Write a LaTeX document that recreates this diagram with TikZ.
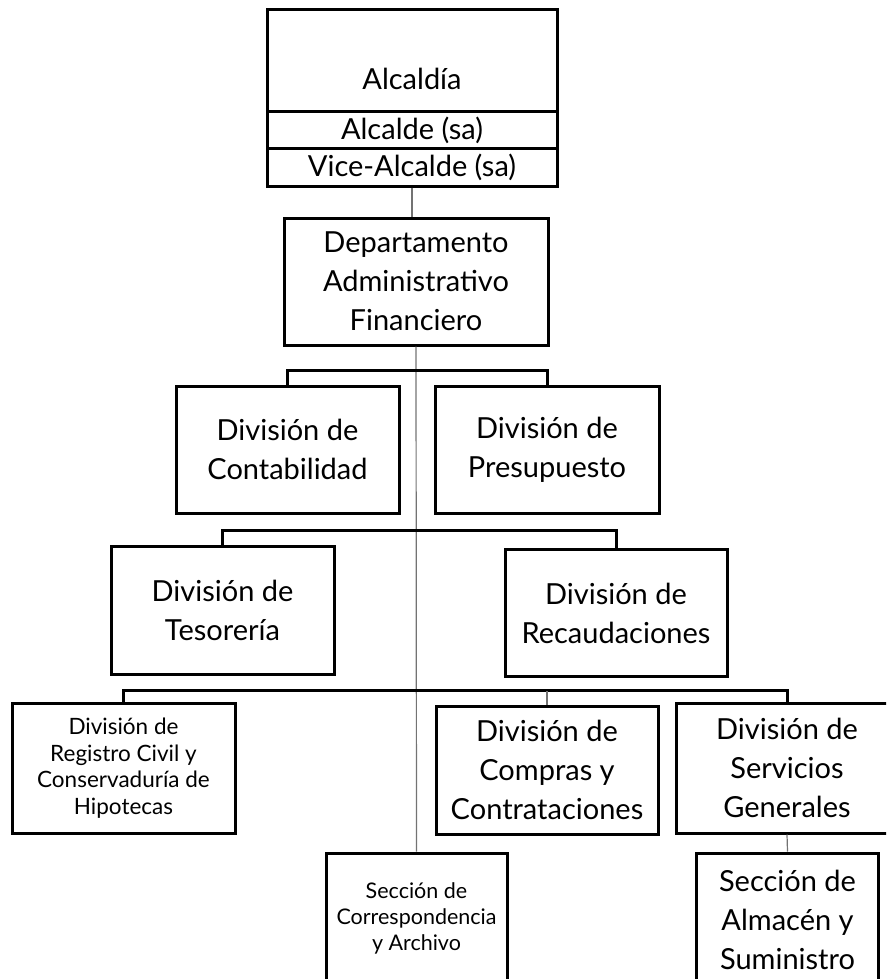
\documentclass[tikz,border=0pt]{standalone}
\usepackage{fontspec}
\setmainfont{Lato}
\begin{document}
\begin{tikzpicture}[x=1pt,y=-1pt,
    caja/.style={draw, line width=3pt, inner sep=0pt, align=center,
        font=\fontsize{29}{39}\selectfont},
    chica/.style={font=\fontsize{22.5}{26.5}\selectfont},
    mini/.style={font=\fontsize{21.5}{26}\selectfont},
    linea/.style={draw=black!55, line width=1.2pt},
    barra/.style={draw, line width=3pt}]
    \useasboundingbox (0,0) rectangle (886,979);
    \clip (0,0) rectangle (886,979);

    % Alcaldia
    \node[caja, minimum width=290, minimum height=102, text depth=0pt, text height=58pt] (alcaldia) at (412,61) {Alcaldía};
    \node[caja, minimum width=290, minimum height=36] (alcalde) at (412,130) {Alcalde (sa)};
    \node[caja, minimum width=290, minimum height=38] (vicealcalde) at (412,167) {Vice-Alcalde (sa)};

    % Departamento
    \node[caja, minimum width=264, minimum height=127] (depto) at (416,281.5) {Departamento\\Administrativo\\Financiero};

    % Divisiones
    \node[caja, minimum width=223, minimum height=127] (contab) at (287.5,449.5) {División de\\Contabilidad};
    \node[caja, minimum width=224, minimum height=127] (presup) at (547,449.5) {División de\\Presupuesto};
    \node[caja, minimum width=223, minimum height=128] (tesor) at (222.5,610) {División de\\Tesorería};
    \node[caja, minimum width=222, minimum height=127] (recaud) at (616,613) {División de\\Recaudaciones};
    \node[caja, chica, minimum width=223, minimum height=130] (registro) at (123.5,768) {División de\\Registro Civil y\\Conservaduría de\\Hipotecas};
    \node[caja, minimum width=222, minimum height=128] (compras) at (547,770) {División de\\Compras y\\Contrataciones};
    \node[caja, minimum width=222, minimum height=130] (servicios) at (787,768) {División de\\Servicios\\Generales};

    % Secciones
    \node[caja, mini, minimum width=181, minimum height=130] (correspond) at (416.5,918) {Sección de\\Correspondencia\\y Archivo};
    \node[caja, minimum width=182, minimum height=134] (almacen) at (787.5,920) {Sección de\\Almacén y\\Suministro};

    % Conectores
    \draw[linea] (vicealcalde.south) -- (vicealcalde.south |- depto.north);
    \draw[linea] (depto.south) -- (correspond.north);
    \draw[barra] (contab.north) -- ++(0,-14) -| (presup.north);
    \draw[barra] (tesor.north) -- ++(0,-14) -| (recaud.north);
    \draw[barra] (registro.north) -- ++(0,-11) -| (servicios.north);
    \draw[linea] (compras.north) -- ++(0,-14);
    \draw[linea] (servicios.south) -- (almacen.north);
\end{tikzpicture}
\end{document}
